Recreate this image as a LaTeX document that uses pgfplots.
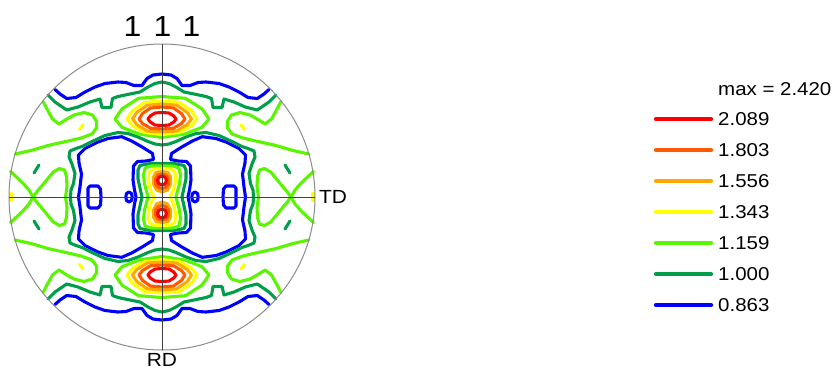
\documentclass[border=0pt]{standalone}
\usepackage{pgfplots}
\pgfplotsset{compat=1.18}
\usepackage{fontspec}
\setmainfont{Liberation Sans}[FakeStretch=1.1]
\definecolor{cA}{RGB}{255,0,0}
\definecolor{cB}{RGB}{255,90,0}
\definecolor{cC}{RGB}{255,168,0}
\definecolor{cD}{RGB}{255,255,0}
\definecolor{cE}{RGB}{90,245,0}
\definecolor{cF}{RGB}{0,158,75}
\definecolor{cG}{RGB}{0,0,255}
\begin{document}
\begin{tikzpicture}
\begin{axis}[name=ax, hide axis, scale only axis, width=835pt, height=370pt,
  xmin=0, xmax=835, ymin=0, ymax=370, y dir=reverse, clip=false,
  every axis plot/.append style={line width=3.1pt, line join=round, line cap=round, mark=none}]
% ---------- blue 0.863 ----------
\addplot[cG] coordinates {(55,89.5)(60,94)(66.7,98.5)(76,97.5)(85,92)(95,87)(105,83.5)(118,82)(126,82.5)(134,85.5)(142,85.5)(147,78.5)(153,75)(162,74)(171,75)(177,78.5)(182,85.5)(190,85.5)(198,82.5)(206,82)(219,83.5)(229,87)(239,92)(248,97.5)(257.3,98.5)(264,94)(269,89.5)};
\addplot[cG] coordinates {(55,304.5)(60,300)(66.7,295.5)(76,296.5)(85,302)(95,307)(105,310.5)(118,312)(126,311.5)(134,308.5)(142,308.5)(147,315.5)(153,319)(162,320)(171,319)(177,315.5)(182,308.5)(190,308.5)(198,311.5)(206,312)(219,310.5)(229,307)(239,302)(248,296.5)(257.3,295.5)(264,300)(269,304.5)};
\addplot[cG] coordinates {(78.5,197)(80,187)(81.5,174)(79,163)(78.5,155)(85,148.5)(98,142)(108,138.5)(121.7,136.7)(131.7,141)(143,147.5)(152.5,153.5)(153.5,159.5)(146,161)(137.5,161.5)(133.5,166)(133,180)(134.5,190)(136,197)(134.5,204)(133,214)(133.5,228)(137.5,232.5)(146,233)(153.5,234.5)(152.5,240.5)(143,246.5)(131.7,253)(121.7,257.3)(108,255.5)(98,252)(85,245.5)(78.5,239)(79,231)(81.5,220)(80,207)(78.5,197)};
\addplot[cG] coordinates {(245.5,197)(244,187)(242.5,174)(245,163)(245.5,155)(239,148.5)(226,142)(216,138.5)(202.3,136.7)(192.3,141)(181,147.5)(171.5,153.5)(170.5,159.5)(178,161)(186.5,161.5)(190.5,166)(191,180)(189.5,190)(188,197)(189.5,204)(191,214)(190.5,228)(186.5,232.5)(178,233)(170.5,234.5)(171.5,240.5)(181,246.5)(192.3,253)(202.3,257.3)(216,255.5)(226,252)(239,245.5)(245.5,239)(245,231)(242.5,220)(244,207)(245.5,197)};
\addplot[cG] coordinates {(129,192)(131.5,193.5)(132.2,197)(131.5,200.5)(129,202)(126.5,200.5)(125.8,197)(126.5,193.5)(129,192)};
\addplot[cG] coordinates {(195,192)(197.5,193.5)(198.2,197)(197.5,200.5)(195,202)(192.5,200.5)(191.8,197)(192.5,193.5)(195,192)};
\addplot[cG] coordinates {(88,188)(90,186)(98,186)(100.5,189)(101,197)(100.5,205)(98,208)(90,208)(88,206)(88,197)(88,188)};
\addplot[cG] coordinates {(236,188)(234,186)(226,186)(223.5,189)(223,197)(223.5,205)(226,208)(234,208)(236,206)(236,197)(236,188)};
% ---------- dark green 1.000 ----------
\addplot[cF] coordinates {(48,95)(55,102)(66.7,110)(78,107)(90,102)(100,99)(102,107.5)(111,107.5)(112.5,98.5)(118,96.5)(130,94)(140,92)(148,87)(155,83.5)(162,82)(169,83.5)(176,87)(184,92)(194,94)(206,96.5)(211.5,98.5)(213,107.5)(222,107.5)(224,99)(234,102)(245.3,107)(257.3,110)(269,102)(276,95)};
\addplot[cF] coordinates {(48,299)(55,292)(66.7,284)(78,287)(90,292)(100,295)(102,286.5)(111,286.5)(112.5,295.5)(118,297.5)(130,300)(140,302)(148,307)(155,310.5)(162,312)(169,310.5)(176,307)(184,302)(194,300)(206,297.5)(211.5,295.5)(213,286.5)(222,286.5)(224,295)(234,292)(245.3,287)(257.3,284)(269,292)(276,299)};
\addplot[cF] coordinates {(70.5,197)(71,190)(73.5,183.5)(75,173.5)(72,164)(69,157)(70,151)(76,148.5)(82,146.5)(92,141.5)(105,135.5)(118,132.5)(128,133.5)(138,137)(148,141.5)(155,144)(162,145)(169,144)(176,141.5)(186,137)(196,133.5)(206,132.5)(219,135.5)(232,141.5)(242,146.5)(248,148.5)(254,151)(255,157)(252,164)(249,173.5)(250.5,183.5)(253,190)(253.5,197)(253,204)(250.5,210.5)(249,220.5)(252,230)(255,237)(254,243)(248,245.5)(242,247.5)(232,252.5)(219,258.5)(206,261.5)(196,260.5)(186,257)(176,252.5)(169,250)(162,249)(155,250)(148,252.5)(138,257)(128,260.5)(118,261.5)(105,258.5)(92,252.5)(82,247.5)(76,245.5)(70,243)(69,237)(72,230)(75,220.5)(73.5,210.5)(71,204)(70.5,197)};
\addplot[cF] coordinates {(162,163.5)(150,163.5)(140,165.5)(138,170)(138,179)(140,188)(142,197)(140,206)(138,215)(138,224)(140,228.5)(150,230.5)(162,230.5)(174,230.5)(184,228.5)(186,224)(186,215)(184,206)(182,197)(184,188)(186,179)(186,170)(184,165.5)(174,163.5)(162,163.5)};
\addplot[cF] coordinates {(34,173)(39,165)};
\addplot[cF] coordinates {(290,173)(285,165)};
\addplot[cF] coordinates {(34,221)(39,229)};
\addplot[cF] coordinates {(290,221)(285,229)};
% ---------- light green 1.159 ----------
\addplot[cE] coordinates {(43.2,101.7)(47.5,110)(52.5,119)(59,124)(66,119.5)(74,115)(84,112.5)(92.5,115)(96.7,121.5)(96.5,128)(92,134)(81,138)(66,141.5)(48,145.5)(31,150.5)(15.2,154)};
\addplot[cE] coordinates {(280.8,101.7)(276.5,110)(271.5,119)(265,124)(258,119.5)(250,115)(240,112.5)(231.5,115)(227.3,121.5)(227.5,128)(232,134)(243,138)(258,141.5)(276,145.5)(293,150.5)(308.8,154)};
\addplot[cE] coordinates {(43.2,292.3)(47.5,284)(52.5,275)(59,270)(66,274.5)(74,279)(84,281.5)(92.5,279)(96.7,272.5)(96.5,266)(92,260)(81,256)(66,252.5)(48,248.5)(31,243.5)(15.2,240)};
\addplot[cE] coordinates {(280.8,292.3)(276.5,284)(271.5,275)(265,270)(258,274.5)(250,279)(240,281.5)(231.5,279)(227.3,272.5)(227.5,266)(232,260)(243,256)(258,252.5)(276,248.5)(293,243.5)(308.8,240)};
\addplot[cE] coordinates {(10.5,171.5)(17,177.5)(23.3,183.5)(29,190)(33,197)(29,204)(23.3,210.5)(17,216.5)(10.5,222.5)};
\addplot[cE] coordinates {(313.5,171.5)(307,177.5)(300.7,183.5)(295,190)(291,197)(295,204)(300.7,210.5)(307,216.5)(313.5,222.5)};
\addplot[cE] coordinates {(33,197)(37,191.5)(40.5,187.5)(46.7,180)(53.3,172)(59.5,168.5)(64.5,170)(66.5,176.5)(67,186.5)(65.5,197)(67,207.5)(66.5,217.5)(64.5,224)(59.5,225.5)(53.3,222)(46.7,214)(40.5,206.5)(37,202.5)(33,197)};
\addplot[cE] coordinates {(291,197)(287,191.5)(283.5,187.5)(277.3,180)(270.7,172)(264.5,168.5)(259.5,170)(257.5,176.5)(257,186.5)(258.5,197)(257,207.5)(257.5,217.5)(259.5,224)(264.5,225.5)(270.7,222)(277.3,214)(283.5,206.5)(287,202.5)(291,197)};
\addplot[cE] coordinates {(162,96.5)(138.5,98.3)(122,108.9)(115,119)(122,127.3)(139,134)(162,137.5)(185,134)(202,127.3)(209,119)(202,108.9)(185.5,98.3)(162,96.5)};
\addplot[cE] coordinates {(162,297.5)(138.5,295.7)(122,285.1)(115,275)(122,266.7)(139,260)(162,256.5)(185,260)(202,266.7)(209,275)(202,285.1)(185.5,295.7)(162,297.5)};
\addplot[cE] coordinates {(162,166)(151,166)(145,168)(143.5,175)(144.5,184)(146.5,191)(148,197)(146.5,203)(144.5,210)(143.5,219)(145,226)(151,228)(162,228)(173,228)(179,226)(180.5,219)(179.5,210)(177.5,203)(176,197)(177.5,191)(179.5,184)(180.5,175)(179,168)(173,166)(162,166)};
% ---------- yellow 1.343 ----------
\addplot[cD] coordinates {(162,101)(144.5,102.4)(132.3,110.9)(127,119)(132.3,125.5)(144.5,132.5)(162,134.5)(179.5,132.5)(191.7,125.5)(197,119)(191.7,110.9)(179.5,102.4)(162,101)};
\addplot[cD] coordinates {(162,293)(144.5,291.6)(132.3,283.1)(127,275)(132.3,268.5)(144.5,261.5)(162,259.5)(179.5,261.5)(191.7,268.5)(197,275)(191.7,283.1)(179.5,291.6)(162,293)};
\addplot[cD] coordinates {(162,168.5)(153,169)(149,172)(148.5,181)(150.5,190)(154,197)(150.5,204)(148.5,213)(149,222)(153,225)(162,225.5)(171,225)(175,222)(175.5,213)(173.5,204)(170,197)(173.5,190)(175.5,181)(175,172)(171,169)(162,168.5)};
\addplot[cD] coordinates {(79.5,129.5)(83,125)};
\addplot[cD] coordinates {(244.5,129.5)(241,125)};
\addplot[cD] coordinates {(79.5,264.5)(83,269)};
\addplot[cD] coordinates {(244.5,264.5)(241,269)};
\addplot[cD] coordinates {(11,193.5)(11,200.5)};
\addplot[cD] coordinates {(313,193.5)(313,200.5)};
% ---------- orange 1.556 ----------
\addplot[cC] coordinates {(162,104)(147.3,105.2)(136.9,112.3)(132.5,119)(136.9,124.6)(147.3,131)(162,132)(176.7,131)(187.1,124.6)(191.5,119)(187.1,112.3)(176.7,105.2)(162,104)};
\addplot[cC] coordinates {(162,290)(147.3,288.8)(136.9,281.7)(132.5,275)(136.9,269.4)(147.3,263)(162,262)(176.7,263)(187.1,269.4)(191.5,275)(187.1,281.7)(176.7,288.8)(162,290)};
\addplot[cC] coordinates {(162,171.5)(156,172.5)(153.5,177)(153.5,184)(156.5,190)(162,192)(167.5,190)(170.5,184)(170.5,177)(168,172.5)(162,171.5)};
\addplot[cC] coordinates {(162,222.5)(156,221.5)(153.5,217)(153.5,210)(156.5,204)(162,202)(167.5,204)(170.5,210)(170.5,217)(168,221.5)(162,222.5)};
% ---------- orange-red 1.803 ----------
\addplot[cB] coordinates {(162,107)(150.5,108)(142.5,113.6)(139,119)(142.5,123.5)(150.5,128.2)(162,129)(173.5,128.2)(181.5,123.5)(185,119)(181.5,113.6)(173.5,108)(162,107)};
\addplot[cB] coordinates {(162,287)(150.5,286)(142.5,280.4)(139,275)(142.5,270.5)(150.5,265.8)(162,265)(173.5,265.8)(181.5,270.5)(185,275)(181.5,280.4)(173.5,286)(162,287)};
\addplot[cB] coordinates {(162,174)(158,175)(155.5,179)(155.8,184.5)(158.5,187.5)(162,188.5)(165.5,187.5)(168.2,184.5)(168.5,179)(166,175)(162,174)};
\addplot[cB] coordinates {(162,220)(158,219)(155.5,215)(155.8,209.5)(158.5,206.5)(162,205.5)(165.5,206.5)(168.2,209.5)(168.5,215)(166,219)(162,220)};
% ---------- red 2.089 ----------
\addplot[cA] coordinates {(162,112.5)(155,113)(150.1,116.1)(148,119)(150.1,121.9)(155,125)(162,125.5)(169,125)(173.9,121.9)(176,119)(173.9,116.1)(169,113)(162,112.5)};
\addplot[cA] coordinates {(162,281.5)(155,281)(150.1,277.9)(148,275)(150.1,272.1)(155,269)(162,268.5)(169,269)(173.9,272.1)(176,275)(173.9,277.9)(169,281)(162,281.5)};
\addplot[cA] coordinates {(162,176)(165.2,177.3)(166.5,180.5)(165.2,183.7)(162,185)(158.8,183.7)(157.5,180.5)(158.8,177.3)(162,176)};
\addplot[cA] coordinates {(162,218)(165.2,216.7)(166.5,213.5)(165.2,210.3)(162,209)(158.8,210.3)(157.5,213.5)(158.8,216.7)(162,218)};
% ---------- frame ----------
\draw[black!45, line width=1pt] (axis cs:162,197) circle[radius=153pt];
\draw[black!75, line width=0.9pt] (axis cs:162,44) -- (axis cs:162,350);
\draw[black!75, line width=0.9pt] (axis cs:9,197) -- (axis cs:315,197);
\node[inner sep=0, font=\fontsize{29}{32}\selectfont] at (axis cs:132.5,27) {1};
\node[inner sep=0, font=\fontsize{29}{32}\selectfont] at (axis cs:162.5,27) {1};
\node[inner sep=0, font=\fontsize{29}{32}\selectfont] at (axis cs:191.5,27) {1};
\node[inner sep=0, anchor=west, font=\fontsize{19}{22}\selectfont] at (axis cs:319,197) {TD};
\node[inner sep=0, font=\fontsize{19}{22}\selectfont] at (axis cs:162,359.5) {RD};
% ---------- legend ----------
\addplot[cA, line width=4.2pt] coordinates {(656,119)(711,119)};
\addplot[cB, line width=4.2pt] coordinates {(656,150)(711,150)};
\addplot[cC, line width=4.2pt] coordinates {(656,181)(711,181)};
\addplot[cD, line width=4.2pt] coordinates {(656,212)(711,212)};
\addplot[cE, line width=4.2pt] coordinates {(656,243)(711,243)};
\addplot[cF, line width=4.2pt] coordinates {(656,274)(711,274)};
\addplot[cG, line width=4.2pt] coordinates {(656,305)(711,305)};
\node[inner sep=0, anchor=west, font=\fontsize{18.6}{21}\selectfont] at (axis cs:718,89) {max = 2.420};
\node[inner sep=0, anchor=west, font=\fontsize{18.6}{21}\selectfont] at (axis cs:718,119) {2.089};
\node[inner sep=0, anchor=west, font=\fontsize{18.6}{21}\selectfont] at (axis cs:718,150) {1.803};
\node[inner sep=0, anchor=west, font=\fontsize{18.6}{21}\selectfont] at (axis cs:718,181) {1.556};
\node[inner sep=0, anchor=west, font=\fontsize{18.6}{21}\selectfont] at (axis cs:718,212) {1.343};
\node[inner sep=0, anchor=west, font=\fontsize{18.6}{21}\selectfont] at (axis cs:718,243) {1.159};
\node[inner sep=0, anchor=west, font=\fontsize{18.6}{21}\selectfont] at (axis cs:718,274) {1.000};
\node[inner sep=0, anchor=west, font=\fontsize{18.6}{21}\selectfont] at (axis cs:718,305) {0.863};
\end{axis}
\pgfresetboundingbox
\path[use as bounding box] (ax.south west) rectangle (ax.north east);
\end{tikzpicture}
\end{document}
